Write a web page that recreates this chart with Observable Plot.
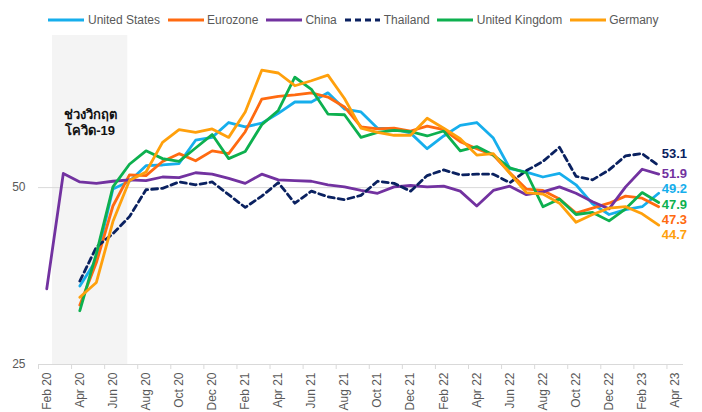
<!DOCTYPE html>
<html><head><meta charset="utf-8">
<script src="https://cdn.jsdelivr.net/npm/d3@7"></script>
<script src="https://cdn.jsdelivr.net/npm/@observablehq/plot@0.6"></script>
<style>
body{margin:0;background:#fff;font-family:"Liberation Sans",Arial,sans-serif;}
#legend{height:35px;box-sizing:border-box;padding-top:10px;padding-left:5px;display:flex;justify-content:center;}
.item{display:flex;align-items:center;height:20px;margin:0 3.75px;font-size:12px;color:#595959;white-space:nowrap;}
.item svg{margin-right:3.5px;display:block;}
</style></head><body>
<div id="legend"></div><div id="chart"></div>
<script>
// Month index: 0 = Feb 20 ... 38 = Apr 23
const tickLabels = ["Feb 20","Apr 20","Jun 20","Aug 20","Oct 20","Dec 20","Feb 21","Apr 21","Jun 21","Aug 21","Oct 21","Dec 21","Feb 22","Apr 22","Jun 22","Aug 22","Oct 22","Dec 22","Feb 23","Apr 23"];
const seriesNames = ["United States","Eurozone","China","Thailand","United Kingdom","Germany"];
const seriesColors = ["#16AEEC","#FF6A10","#7232A0","#0A2160","#0DB04F","#FFA00C"];

// values from Apr 20 (index 2) to Mar 23
const usValues = [36.1,39.8,49.8,50.9,53.1,53.2,53.4,56.7,57.1,59.2,58.6,59.1,60.5,62.1,62.1,63.4,61.1,60.7,58.4,58.3,57.7,55.5,57.3,58.8,59.2,57.0,52.7,52.2,51.5,52.0,50.4,47.7,46.2,46.9,47.3,49.2];
const eurozoneValues = [33.4,39.4,47.4,51.8,51.7,53.7,54.8,53.8,55.2,54.8,57.9,62.5,62.9,63.1,63.4,62.8,61.4,58.6,58.3,58.4,58.0,58.7,58.2,56.5,55.5,54.6,52.1,49.8,49.6,48.4,46.4,47.1,47.8,48.8,48.5,47.3];
// China from Feb 20 (index 0)
const chinaValues = [35.7,52.0,50.8,50.6,50.9,51.1,51.0,51.5,51.4,52.1,51.9,51.3,50.6,51.9,51.1,51.0,50.9,50.4,50.1,49.6,49.2,50.1,50.3,50.1,50.2,49.5,47.4,49.6,50.2,49.0,49.4,50.1,49.2,48.0,47.0,50.1,52.6,51.9];
const thailandValues = [36.8,41.6,43.5,45.9,49.7,49.9,50.8,50.4,50.8,49.0,47.2,48.8,50.7,47.8,49.5,48.7,48.3,48.9,50.9,50.6,49.5,51.7,52.5,51.8,51.9,51.9,50.7,52.4,53.7,55.7,51.6,51.1,52.5,54.5,54.8,53.1];
const ukValues = [32.6,40.7,50.1,53.3,55.2,54.1,53.7,55.6,57.5,54.1,55.1,58.9,60.9,65.6,63.9,60.4,60.3,57.1,57.8,58.1,57.9,57.3,58.0,55.2,55.8,54.6,52.8,52.1,47.3,48.4,46.2,46.5,45.3,47.0,49.3,47.9];
const germanyValues = [34.5,36.6,45.2,51.0,52.2,56.4,58.2,57.8,58.3,57.1,60.7,66.6,66.2,64.4,65.1,65.9,62.6,58.4,57.8,57.4,57.4,59.8,58.4,56.9,54.6,54.8,52.0,49.3,49.1,47.8,45.1,46.2,47.1,47.3,46.3,44.7];
const seriesStart = [2,2,0,2,2,2];
const covidBand = [{start:0.35, end:4.9, label:"ช่วงวิกฤต\nโควิด-19"}];

// layout-only: vertical nudge of end labels (px)
const endLabelDy = [-4,13,0,-12,2,10];

const allValues = [usValues,eurozoneValues,chinaValues,thailandValues,ukValues,germanyValues];
const rows = [];
allValues.forEach((vals,s)=>vals.forEach((v,k)=>rows.push({series:seriesNames[s], s, i:seriesStart[s]+k, v})));
const lastRows = allValues.map((vals,s)=>({series:seriesNames[s], s, i:seriesStart[s]+vals.length-1, v:vals[vals.length-1]}));

// legend
const legend = document.getElementById("legend");
seriesNames.forEach((n,s)=>{
  const it=document.createElement("div");it.className="item";
  const dash = n==="Thailand" ? 'stroke-dasharray="6,4"' : '';
  it.innerHTML=`<svg width="36" height="6"><line x1="${n==="Thailand"?1:0}" y1="3" x2="36" y2="3" stroke="${seriesColors[s]}" stroke-width="3" ${dash}/></svg><span>${n}</span>`;
  legend.appendChild(it);
});

const tickIdx = tickLabels.map((_,k)=>k*2);
const tickBounds = tickIdx.map(i=>i-0.5);

const lineMarks = seriesNames.map((n,s)=>Plot.line(rows.filter(d=>d.s===s),{
  x:"i", y:"v", stroke:seriesColors[s], strokeWidth:2.8, strokeLinejoin:"round",
  strokeDasharray: n==="Thailand" ? "6,4" : null
}));

const labelMarks = lastRows.map(d=>Plot.text([d],{x:"i", y:"v", text:r=>r.v.toFixed(1), dx:3, dy:endLabelDy[d.s], textAnchor:"start", fill:seriesColors[d.s], fontWeight:"bold", fontSize:13}));

const chart = Plot.plot({
  width:702, height:377,
  marginTop:0, marginLeft:38, marginRight:19, marginBottom:48,
  style:{fontFamily:'"Liberation Sans",Arial,sans-serif', background:"transparent"},
  x:{type:"linear", domain:[-0.5,38.5]},
  y:{domain:[25,71.5]},
  marks:[
    Plot.rect(covidBand,{x1:"start", x2:"end", fill:"#f4f4f4"}),
    Plot.ruleY([50],{stroke:"#d9d9d9", strokeWidth:1}),
    Plot.ruleY([25],{stroke:"#d9d9d9", strokeWidth:1}),
    Plot.axisX({ticks:tickBounds, tickSize:5, tickFormat:()=> "", stroke:"#d9d9d9", label:null}),
    Plot.axisX({ticks:tickIdx, tickSize:0, tickPadding:8, tickRotate:-90, tickFormat:i=>tickLabels[i/2], fontSize:12, fill:"#595959", label:null}),
    Plot.axisY({ticks:[25,50], tickSize:0, tickPadding:13, fontSize:12, fill:"#595959", label:null}),
    Plot.text(covidBand,{x:d=>(d.start+d.end)/2, frameAnchor:"top", dy:73, lineAnchor:"top", text:"label", fontWeight:"bold", fontSize:13, fill:"#111", lineHeight:1.18}),
    ...lineMarks,
    ...labelMarks
  ]
});
document.getElementById("chart").appendChild(chart);
</script></body></html>
